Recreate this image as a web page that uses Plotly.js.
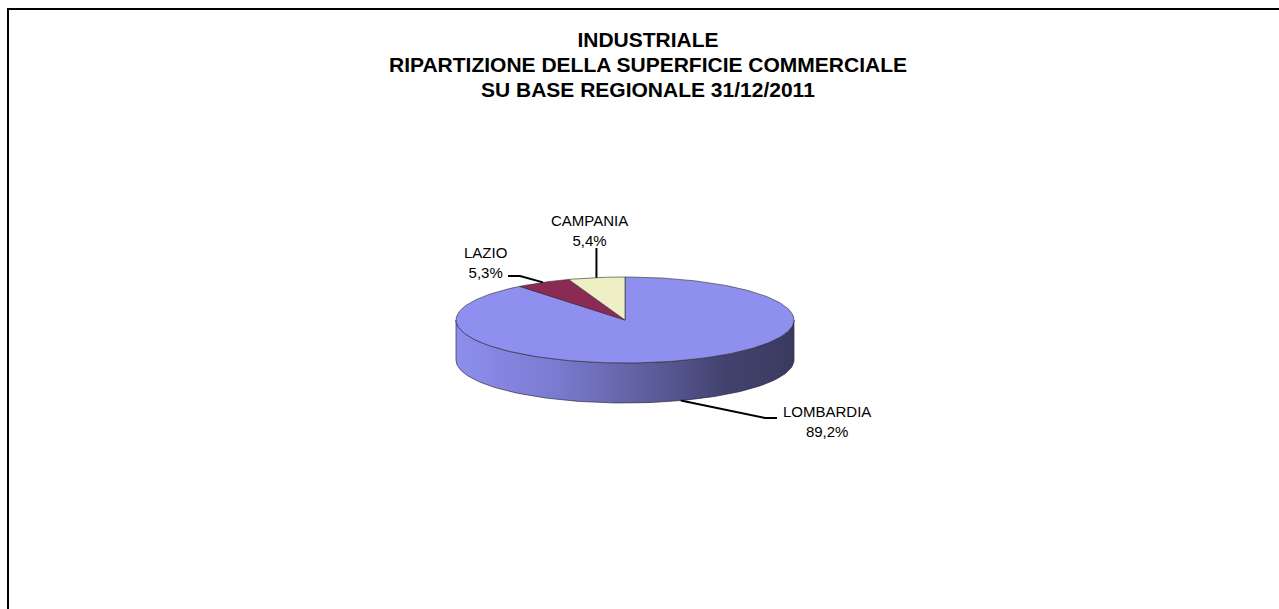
<!DOCTYPE html>
<html>
<head>
<meta charset="utf-8">
<script src="https://cdn.plot.ly/plotly-3.0.1.min.js"></script>
<style>
html,body{margin:0;padding:0;background:#fff;overflow:hidden;}
#chart{width:1279px;height:609px;}
</style>
</head>
<body>
<div id="chart"></div>
<script>
// ---- data ----
const categories = ['LOMBARDIA', 'LAZIO', 'CAMPANIA'];
const shares = [89.2, 5.3, 5.4];
const titleLines = ['INDUSTRIALE', 'RIPARTIZIONE DELLA SUPERFICIE COMMERCIALE', 'SU BASE REGIONALE 31/12/2011'];

// ---- styles / layout constants ----
const sliceColors = ['#8f8fef', '#8b2b55', '#efefc6'];
const wallScale = [[0, '#8e8eee'], [0.3, '#7a7ad0'], [0.55, '#6060a0'], [0.8, '#42426e'], [1, '#3a3a60']];
const W = 1279, H = 609;
const cx = 625, cy = 320, rx = 169, ry = 43, depth = 40;
const FONT = 'Liberation Sans, Arial, Helvetica, sans-serif';
const titleY = [40, 64.5, 89];
// label placement (center of label text block) and leader geometry
const labelPos = [[827, 421], [485, 262], [589, 230]];
const leaderElbow = [[765, 418], [520, 276], null];
const leaderEnd = [[777, 418], [508, 276], [null, 248]];

function pt(th, dy) {
  return [cx + rx * Math.sin(th), cy - ry * Math.cos(th) + (dy || 0)];
}

const total = shares.reduce((a, b) => a + b, 0);
const traces = [];
const annotations = [];
const steps = 240;
let acc = 0;
const slices = shares.map((v, i) => {
  const a0 = acc / total * 2 * Math.PI;
  acc += v;
  const a1 = acc / total * 2 * Math.PI;
  return {a0, a1, i};
});

// side walls (front half only)
slices.forEach(s => {
  const a = Math.max(s.a0, Math.PI / 2), b = Math.min(s.a1, 3 * Math.PI / 2);
  if (a >= b) return;
  const xs = [], ys = [];
  const n = Math.max(2, Math.ceil((b - a) / (2 * Math.PI) * steps));
  for (let k = 0; k <= n; k++) { const p = pt(a + (b - a) * k / n, 0); xs.push(p[0]); ys.push(p[1]); }
  for (let k = n; k >= 0; k--) { const p = pt(a + (b - a) * k / n, depth); xs.push(p[0]); ys.push(p[1]); }
  xs.push(xs[0]); ys.push(ys[0]);
  const tr = {
    type: 'scatter', mode: 'lines', x: xs, y: ys, fill: 'toself',
    line: {color: '#2c2c44', width: 0.7}, hoverinfo: 'skip', showlegend: false
  };
  if (s.i === 0) {
    tr.fillgradient = {type: 'horizontal', colorscale: wallScale};
  } else {
    tr.fillcolor = sliceColors[s.i];
  }
  traces.push(tr);
});

// top faces
slices.forEach(s => {
  const xs = [cx], ys = [cy];
  const n = Math.max(2, Math.ceil((s.a1 - s.a0) / (2 * Math.PI) * steps));
  for (let k = 0; k <= n; k++) { const p = pt(s.a0 + (s.a1 - s.a0) * k / n, 0); xs.push(p[0]); ys.push(p[1]); }
  xs.push(cx); ys.push(cy);
  traces.push({
    type: 'scatter', mode: 'lines', x: xs, y: ys, fill: 'toself',
    fillcolor: sliceColors[s.i], line: {color: '#2a2a2a', width: 0.6},
    hoverinfo: 'skip', showlegend: false
  });
});

// leader lines + labels
slices.forEach(s => {
  const mid = (s.a0 + s.a1) / 2;
  const front = mid > Math.PI / 2 && mid < 3 * Math.PI / 2;
  const st = pt(mid, front ? depth : 0);
  const xs = [st[0]], ys = [st[1]];
  if (leaderElbow[s.i]) { xs.push(leaderElbow[s.i][0]); ys.push(leaderElbow[s.i][1]); }
  const e = leaderEnd[s.i];
  xs.push(e[0] === null ? st[0] : e[0]); ys.push(e[1]);
  traces.push({
    type: 'scatter', mode: 'lines', x: xs, y: ys,
    line: {color: '#000', width: 2}, hoverinfo: 'skip', showlegend: false
  });
  annotations.push({
    x: labelPos[s.i][0], y: labelPos[s.i][1], xref: 'x', yref: 'y',
    text: categories[s.i] + '<br>' + shares[s.i].toFixed(1).replace('.', ',') + '%',
    showarrow: false, xanchor: 'center', yanchor: 'middle', align: 'center',
    font: {family: FONT, size: 15, color: '#000'}
  });
});

// title lines (first line as layout title, rest as annotations for exact spacing)
titleLines.slice(1).forEach((t, k) => {
  annotations.push({
    x: 648, y: titleY[k + 1], xref: 'x', yref: 'y', showarrow: false,
    xanchor: 'center', yanchor: 'middle', text: '<b>' + t + '</b>',
    font: {family: FONT, size: 21, color: '#000'}
  });
});

const layout = {
  width: W, height: H,
  margin: {l: 0, r: 0, t: 0, b: 0},
  paper_bgcolor: '#fff', plot_bgcolor: '#fff',
  showlegend: false,
  title: {
    text: '<b>' + titleLines[0] + '</b>',
    font: {family: FONT, size: 21, color: '#000'},
    x: 648 / W, xanchor: 'center', xref: 'paper',
    y: 1 - titleY[0] / H, yanchor: 'middle', yref: 'container'
  },
  xaxis: {range: [0, W], visible: false, fixedrange: true},
  yaxis: {range: [H, 0], visible: false, fixedrange: true},
  annotations: annotations,
  shapes: [
    {type: 'line', xref: 'x', yref: 'y', x0: 8, x1: 8, y0: 8, y1: H + 5, line: {color: '#000', width: 2}},
    {type: 'line', xref: 'x', yref: 'y', x0: 7, x1: W + 5, y0: 9, y1: 9, line: {color: '#000', width: 2}}
  ]
};

Plotly.newPlot('chart', traces, layout, {displayModeBar: false, staticPlot: true});
</script>
</body>
</html>
